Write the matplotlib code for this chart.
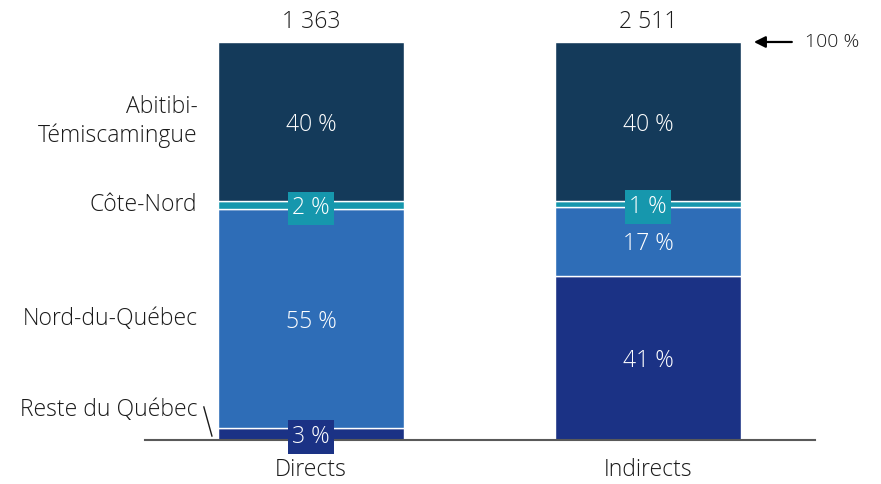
import numpy as np
import matplotlib.pyplot as plt

plt.rcParams['font.family'] = ['Open Sans', 'DejaVu Sans']
plt.rcParams['font.weight'] = 'light'

# Données
groups = ['Directs', 'Indirects']
totals = ['1 363', '2 511']
regions = ['Reste du Québec', 'Nord-du-Québec', 'Côte-Nord', 'Abitibi-\nTémiscamingue']
shares = {
    'Reste du Québec': [3.0, 41.2],
    'Nord-du-Québec': [55.0, 17.4],
    'Côte-Nord': [2.0, 1.4],
    'Abitibi-\nTémiscamingue': [40.0, 40.0],
}
colors = ['#1b3285', '#2e6db7', '#1697ad', '#143a5a']
boxed = ['Reste du Québec', 'Côte-Nord']

fs = 16.5
fig = plt.figure(figsize=(8.81, 4.84), dpi=100)
ax = fig.add_axes([145 / 881, 44 / 484, 670 / 881, 440 / 484])

x = np.arange(len(groups))
width = 0.552
bottom = np.zeros(len(groups))
for reg, col in zip(regions, colors):
    vals = np.array(shares[reg])
    ax.bar(x, vals, width, bottom=bottom, color=col, edgecolor='white', linewidth=1)
    for xi, v, b in zip(x, vals, bottom):
        lab = f'{round(v):.0f} %'
        if reg in boxed:
            ax.text(xi, b + v / 2, lab, ha='center', va='center_baseline', color='white', fontsize=fs,
                    bbox=dict(boxstyle='square,pad=0.2', fc=col, ec='none'))
        else:
            ax.text(xi, b + v / 2, lab, ha='center', va='center_baseline', color='white', fontsize=fs)
    bottom += vals

# étiquettes des régions (côté gauche)
first = [shares[r][0] for r in regions]
cum = np.cumsum([0] + first)
label_y = [(cum[0] + cum[1]) / 2 + 6.0, (cum[1] + cum[2]) / 2,
           (cum[2] + cum[3]) / 2, (cum[3] + cum[4]) / 2]
for reg, ly in zip(regions, label_y):
    ax.text(-0.337, ly, reg, ha='right', va='center', fontsize=fs, color='#1a1a1a',
            linespacing=1.2)
ax.plot([-0.318, -0.294], [8.3, 1.0], color='#1a1a1a', lw=1)

# totaux
for xi, t in zip(x, totals):
    ax.text(xi, 105.0, t, ha='center', va='center', fontsize=fs, color='#1a1a1a')

# flèche 100 %
ax.annotate('', xy=(1.306, 100), xytext=(1.435, 100),
            arrowprops=dict(arrowstyle='-|>', color='black', lw=1.6, mutation_scale=17))
ax.text(1.467, 100, '100 %', ha='left', va='center', fontsize=14, color='#1a1a1a',
        clip_on=False)

ax.set_xlim(-0.4926, 1.4955)
ax.set_ylim(0, 110.55)
ax.set_xticks(x)
ax.set_xticklabels(groups, fontsize=fs, color='#1a1a1a')
ax.tick_params(axis='x', length=0, pad=13)
ax.set_yticks([])
for s in ['top', 'right', 'left']:
    ax.spines[s].set_visible(False)
ax.spines['bottom'].set_color('#595959')
ax.spines['bottom'].set_linewidth(1.5)

fig.savefig('out.png', dpi=100)
